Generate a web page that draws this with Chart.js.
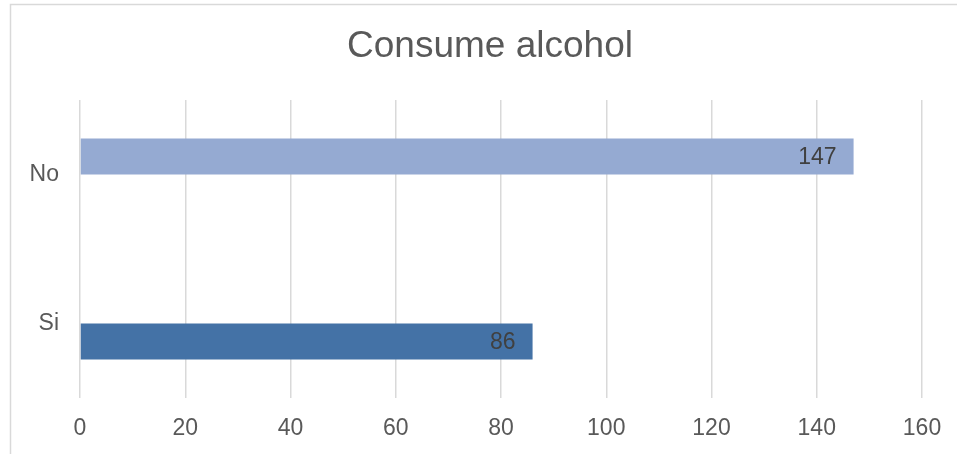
<!DOCTYPE html>
<html>
<head>
<meta charset="utf-8">
<script src="https://cdn.jsdelivr.net/npm/chart.js@4/dist/chart.umd.min.js"></script>
<style>
  html, body { margin: 0; padding: 0; background: #fff; }
  #wrap { width: 957px; height: 454px; }
</style>
</head>
<body>
<div id="wrap"><canvas id="alcoholChart" width="957" height="454"></canvas></div>
<script>
// Chart data
const chartTitle = "Consume alcohol";
const categories = ["No", "Si"];
const noValues = [147, null];
const siValues = [null, 86];
const xTicks = [0, 20, 40, 60, 80, 100, 120, 140, 160];

const FONT = "'Liberation Sans', Arial, sans-serif";

// Frame around the chart and the title (Excel places the title off-centre)
const framePlugin = {
  id: "frame",
  beforeDraw(chart) {
    const c = chart.ctx;
    c.save();
    c.strokeStyle = "#D9D9D9";
    c.lineWidth = 1.5;
    c.strokeRect(10.5, 4.5, chart.width + 20, chart.height + 20);
    c.restore();
  },
  afterDraw(chart) {
    const c = chart.ctx;
    c.save();
    c.font = "37px " + FONT;
    c.fillStyle = "#595959";
    c.textAlign = "center";
    c.textBaseline = "middle";
    c.fillText(chartTitle, 490, 47);
    c.restore();
  }
};

// Value labels at inside end of each bar
const valueLabels = {
  id: "valueLabels",
  afterDatasetsDraw(chart) {
    const c = chart.ctx;
    c.save();
    c.font = "23px " + FONT;
    c.fillStyle = "#404040";
    c.textAlign = "right";
    c.textBaseline = "middle";
    chart.data.datasets.forEach((ds, i) => {
      chart.getDatasetMeta(i).data.forEach((bar, j) => {
        const v = ds.data[j];
        if (v == null) return;
        c.fillText(String(v), bar.x - 17, bar.y + 1);
      });
    });
    c.restore();
  }
};

document.addEventListener("DOMContentLoaded", function () {
  const ctx = document.getElementById("alcoholChart").getContext("2d");

  new Chart(ctx, {
    type: "bar",
    data: {
      labels: categories,
      datasets: [
        {
          label: "No",
          data: noValues,
          backgroundColor: "#95AAD2",
          categoryPercentage: 0.483,
          barPercentage: 1
        },
        {
          label: "Si",
          data: siValues,
          backgroundColor: "#4472A6",
          categoryPercentage: 0.483,
          barPercentage: 1
        }
      ]
    },
    options: {
      indexAxis: "y",
      responsive: false,
      animation: false,
      layout: { padding: { left: 8, right: 35, top: 100, bottom: 0 } },
      plugins: {
        legend: { display: false },
        tooltip: { enabled: false },
        title: { display: false }
      },
      scales: {
        x: {
          min: 0,
          max: 160,
          afterBuildTicks: axis => { axis.ticks = xTicks.map(v => ({ value: v })); },
          afterFit: axis => {
            axis.height = 56;
            axis.paddingLeft = 0;
            axis.paddingRight = 0;
          },
          grid: { color: "#D9D9D9", lineWidth: 1.5, drawTicks: false },
          border: { display: false },
          ticks: {
            color: "#595959",
            padding: 17,
            font: { family: FONT, size: 23 }
          }
        },
        y: {
          afterFit: axis => { axis.width = 72; },
          grid: { display: false, drawTicks: false },
          border: { display: false },
          ticks: {
            color: "#595959",
            padding: 21,
            font: { family: FONT, size: 23 }
          }
        }
      }
    },
    plugins: [framePlugin, valueLabels]
  });
});
</script>
</body>
</html>
